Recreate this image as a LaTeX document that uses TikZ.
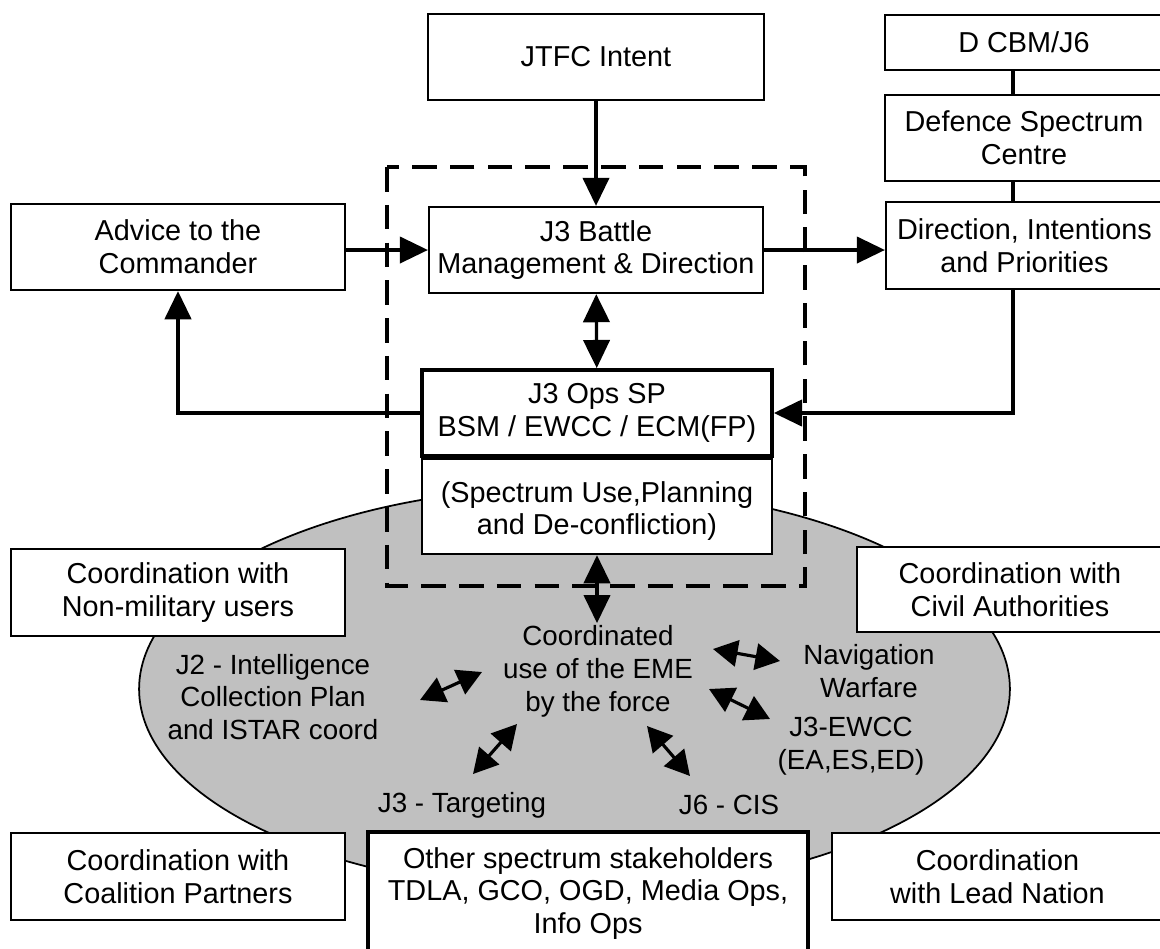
\documentclass[tikz,border=0pt]{standalone}
\usepackage{amsmath}
\usepackage{fontspec}
\setmainfont{Liberation Sans}
\usepackage[usenames, dvipsnames]{xcolor}
\usepackage{tikz}
\usetikzlibrary{arrows.meta,positioning,shapes.geometric}
\definecolor{emegrey}{RGB}{192,192,192}

\begin{document}
\begin{tikzpicture}[x=0.02cm, y=-0.02cm,
    box/.style={draw, fill=white, line width=1.3pt, align=center, inner sep=0pt, font=\fontsize{16.4}{18.6}\selectfont},
    lbl/.style={align=center, inner sep=1pt, font=\fontsize{15.8}{18.7}\selectfont},
    arr/.style={-{Triangle[length=16pt,width=15pt]}, line width=1.8pt},
    dbl/.style={{Triangle[length=16pt,width=15pt]}-{Triangle[length=16pt,width=15pt]}, line width=1.8pt},
    sdbl/.style={{Triangle[length=14pt,width=15pt]}-{Triangle[length=14pt,width=15pt]}, line width=1.8pt}]
  \useasboundingbox (0,0) rectangle (1160,948);
  \clip (0,0) rectangle (1160,948);
  % the EME
  \draw[fill=emegrey, line width=1pt] (574.5,689) ellipse [x radius=8.71cm, y radius=4.04cm];

  \node[box, minimum width=6.72cm, minimum height=1.72cm] (jtfc) at (596,57) {JTFC Intent};
  \node[box, minimum width=5.56cm, minimum height=1.10cm] (dcbm) at (1024,42.5) {D CBM/J6};
  \node[box, minimum width=5.56cm, minimum height=1.72cm] (dsc) at (1024,138) {Defence Spectrum\\Centre};
  \node[box, minimum width=5.54cm, minimum height=1.74cm] (dip) at (1024.5,245.5) {Direction, Intentions\\and Priorities};
  \node[box, minimum width=6.68cm, minimum height=1.72cm] (advice) at (178,247) {Advice to the\\Commander};
  \node[box, minimum width=6.68cm, minimum height=1.72cm] (battle) at (596,250) {J3 Battle\\Management \& Direction};
  \node[box, line width=2.2pt, minimum width=7cm, minimum height=1.72cm] (ops) at (597,413) {J3 Ops SP\\BSM / EWCC / ECM(FP)};
  \node[box, minimum width=7cm, minimum height=1.9cm, below=0pt of ops] (spec) {\rule{0pt}{17pt}(Spectrum Use,Planning\\and De-confliction)};

  \node[box, minimum width=6.68cm, minimum height=1.74cm] (nonmil) at (178,592.5) {Coordination with\\Non-military users};
  \node[box, minimum width=6.12cm, minimum height=1.70cm] (civil) at (1010,589.5) {Coordination with\\Civil Authorities};
  \node[box, minimum width=6.68cm, minimum height=1.74cm] (coal) at (178,876.5) {Coordination with\\Coalition Partners};
  \node[box, line width=2pt, minimum width=8.8cm, minimum height=2.46cm] (other) at (588,893.5) {Other spectrum stakeholders\\TDLA, GCO, OGD, Media Ops,\\Info Ops};
  \node[box, minimum width=6.62cm, minimum height=1.74cm] (lead) at (997.5,876.5) {Coordination\\with Lead Nation};

  % inside the ellipse
  \node[lbl] (eme) at (598,671) {Coordinated\\use of the EME\\by the force};
  \node[lbl] (j2) at (273,697) {J2 - Intelligence\\Collection Plan\\and ISTAR coord};
  \node[lbl] (nav) at (869,671) {Navigation\\Warfare};
  \node[lbl] (ewcc) at (851,746) {J3-EWCC\\(EA,ES,ED)};
  \node[lbl] (tgt) at (462,805) {J3 - Targeting};
  \node[lbl] (cis) at (729,805) {J6 - CIS};

  % J3 cell
  \draw[line width=2.3pt, dash pattern=on 14pt off 7.5pt] (387,167) rectangle (805,586);

  \coordinate (rail) at (1013,0);
  \draw[line width=1.8pt] (rail |- dcbm.south) -- (rail |- dsc.north);
  \draw[line width=1.8pt] (rail |- dsc.south) -- (rail |- dip.north);
  \draw[arr] (jtfc) -- (battle);
  \draw[arr] (advice.east |- battle.west) -- (battle.west);
  \draw[arr] (battle.east) -- (battle.east -| dip.west);
  \draw[dbl] (battle) -- (ops);
  \draw[arr] (ops.west) -| (advice.south);
  \draw[arr] (rail |- dip.south) |- (ops.east);
  \draw[dbl] (spec.south) -- (spec.south |- eme.north);

  \coordinate (j2a) at (420,700);  \coordinate (j2b) at (482,672);
  \coordinate (tga) at (473,774);  \coordinate (tgb) at (517,724);
  \coordinate (cia) at (647,726);  \coordinate (cib) at (690,776);
  \coordinate (ewa) at (709,689);  \coordinate (ewb) at (770,719);
  \coordinate (nva) at (713,649);  \coordinate (nvb) at (780,661);
  \draw[sdbl] (j2a) -- (j2b);
  \draw[sdbl] (tga) -- (tgb);
  \draw[sdbl] (cia) -- (cib);
  \draw[sdbl] (ewa) -- (ewb);
  \draw[sdbl] (nva) -- (nvb);
\end{tikzpicture}
\end{document}
